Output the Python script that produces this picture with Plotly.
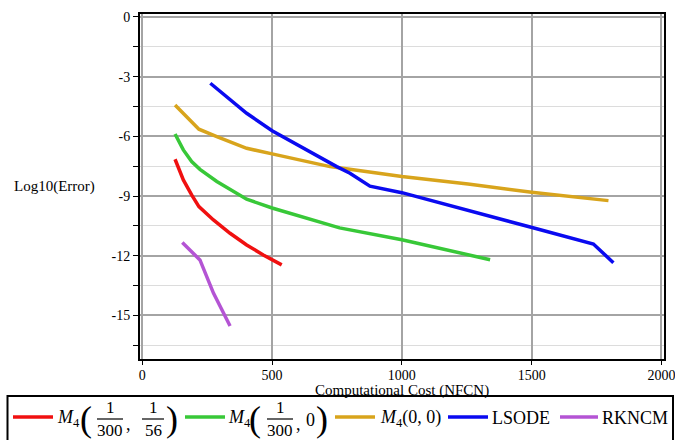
import plotly.graph_objects as go

# ---------------- data ----------------
red_x = [126, 158, 190, 218, 274, 338, 402, 466, 537]
red_y = [-7.15, -8.19, -8.94, -9.53, -10.2, -10.87, -11.46, -11.96, -12.46]

green_x = [126, 158, 190, 222, 287, 338, 402, 500, 600, 760, 1000, 1340]
green_y = [-5.88, -6.68, -7.27, -7.66, -8.27, -8.66, -9.16, -9.6, -10.0, -10.6, -11.2, -12.2]

gold_x = [126, 218, 287, 402, 500, 723, 1000, 1255, 1500, 1796]
gold_y = [-4.42, -5.64, -6.01, -6.6, -6.88, -7.52, -8.02, -8.4, -8.81, -9.23]

blue_x = [262, 402, 500, 620, 749, 800, 877, 1000, 1378, 1498, 1738, 1815]
blue_y = [-3.33, -4.84, -5.72, -6.6, -7.52, -7.85, -8.5, -8.83, -10.12, -10.57, -11.41, -12.35]

purple_x = [154, 184, 222, 274, 338]
purple_y = [-11.34, -11.7, -12.21, -13.88, -15.53]

x_ticks = [0, 500, 1000, 1500, 2000]
x_tick_labels = ["0", "500", "1000", "1500", "2000"]
y_ticks = [0, -3, -6, -9, -12, -15]
y_tick_labels = ["0", "-3", "-6", "-9", "-12", "-15"]

series_names = ["M4(1/300, 1/56)", "M4(1/300, 0)", "M4(0, 0)", "LSODE", "RKNCM"]
colors = ["#f01010", "#38c838", "#d8a41c", "#0a0af0", "#b454d4"]

# ---------------- figure ----------------
SERIF = "Liberation Serif"
fig = go.Figure()
for xs, ys, name, c in zip([red_x, green_x, gold_x, blue_x, purple_x],
                           [red_y, green_y, gold_y, blue_y, purple_y],
                           series_names, colors):
    fig.add_trace(go.Scatter(x=xs, y=ys, mode="lines", name=name,
                             line=dict(color=c, width=3.5), showlegend=False))

L, R, T, B = 140, 664, 14, 359
W, H = 675, 440


def px(x):
    return (x - L) / (R - L)


def py(y):
    return (B - y) / (B - T)


fig.update_layout(
    width=W, height=H,
    margin=dict(l=L, r=W - R, t=T, b=H - B, pad=0, autoexpand=False),
    paper_bgcolor="white", plot_bgcolor="white",
    font=dict(family=SERIF, size=14, color="black"),
    xaxis=dict(range=[-9, 2010], tickmode="array", tickvals=x_ticks, ticktext=x_tick_labels,
               showgrid=True, gridcolor="#a4a4a4", gridwidth=1.6, zeroline=False,
               showline=True, linecolor="black", linewidth=2, mirror=True,
               ticks="outside", ticklen=4, tickcolor="black", tickwidth=1,
               ticklabelstandoff=-2, automargin=False, ticklabeloverflow="allow",
               tickfont=dict(family=SERIF, size=14)),
    yaxis=dict(range=[-17.19, 0.15], tickmode="array", tickvals=y_ticks, ticktext=y_tick_labels,
               showgrid=True, gridcolor="#a4a4a4", gridwidth=1.6, zeroline=False,
               showline=True, linecolor="black", linewidth=2, mirror=True,
               ticks="outside", ticklen=5, tickcolor="black", tickwidth=1,
               automargin=False, ticklabeloverflow="allow",
               tickfont=dict(family=SERIF, size=14),
               minor=dict(tick0=0, dtick=1.5, showgrid=True, gridcolor="#dcdcdc", gridwidth=1,
                          ticks="outside", ticklen=5, tickcolor="black")),
)

ann = []
# axis titles
ann.append(dict(text="Log10(Error)", x=px(54), y=py(186), xref="paper", yref="paper",
                showarrow=False, xanchor="center", yanchor="middle",
                font=dict(family=SERIF, size=15)))
ann.append(dict(text="Computational Cost (NFCN)", x=px(402), y=py(390), xref="paper", yref="paper",
                showarrow=False, xanchor="center", yanchor="middle",
                font=dict(family=SERIF, size=15)))

shapes = []
# legend box
shapes.append(dict(type="rect", xref="paper", yref="paper",
                   x0=px(7.5), x1=px(673), y0=py(396), y1=py(443),
                   line=dict(color="black", width=2), fillcolor="rgba(0,0,0,0)"))

LY = 418  # legend row centre
LF = 18


def txt(s, x, y=LY, size=LF):
    ann.append(dict(text=s, x=px(x), y=py(y), xref="paper", yref="paper", showarrow=False,
                    xanchor="center", yanchor="middle", font=dict(family=SERIF, size=size)))


def sample(x0, x1, c):
    shapes.append(dict(type="line", xref="paper", yref="paper", x0=px(x0), x1=px(x1),
                       y0=py(LY - 1), y1=py(LY - 1), line=dict(color=c, width=3.5)))


def frac(num, den, xc, w):
    txt(num, xc, 407, 17)
    txt(den, xc, 431, 17)
    shapes.append(dict(type="line", xref="paper", yref="paper", x0=px(xc - w / 2), x1=px(xc + w / 2),
                       y0=py(419), y1=py(419), line=dict(color="black", width=1.2)))


# item 1
sample(13, 53, colors[0])
txt("<i>M</i><sub>4</sub>", 68)
txt("(", 86, 419, 36)
frac("1", "300", 110, 26)
txt(",", 128, 424)
frac("1", "56", 153, 22)
txt(")", 172, 419, 36)
# item 2
sample(185, 225, colors[1])
txt("<i>M</i><sub>4</sub>", 239)
txt("(", 255, 419, 36)
frac("1", "300", 280, 26)
txt(",", 298, 424)
txt("0", 310, 420)
txt(")", 322, 419, 36)
# item 3
sample(335, 375, colors[2])
txt("<i>M</i><sub>4</sub>(0, 0)", 410)
# item 4
sample(448, 488, colors[3])
txt("LSODE", 521)
# item 5
sample(560, 598, colors[4])
txt("RKNCM", 635)

fig.update_layout(annotations=ann, shapes=shapes)
fig.write_html("out.html", config={"displayModeBar": False},
               post_script="document.body.style.margin='0px';document.body.style.padding='0px';")
